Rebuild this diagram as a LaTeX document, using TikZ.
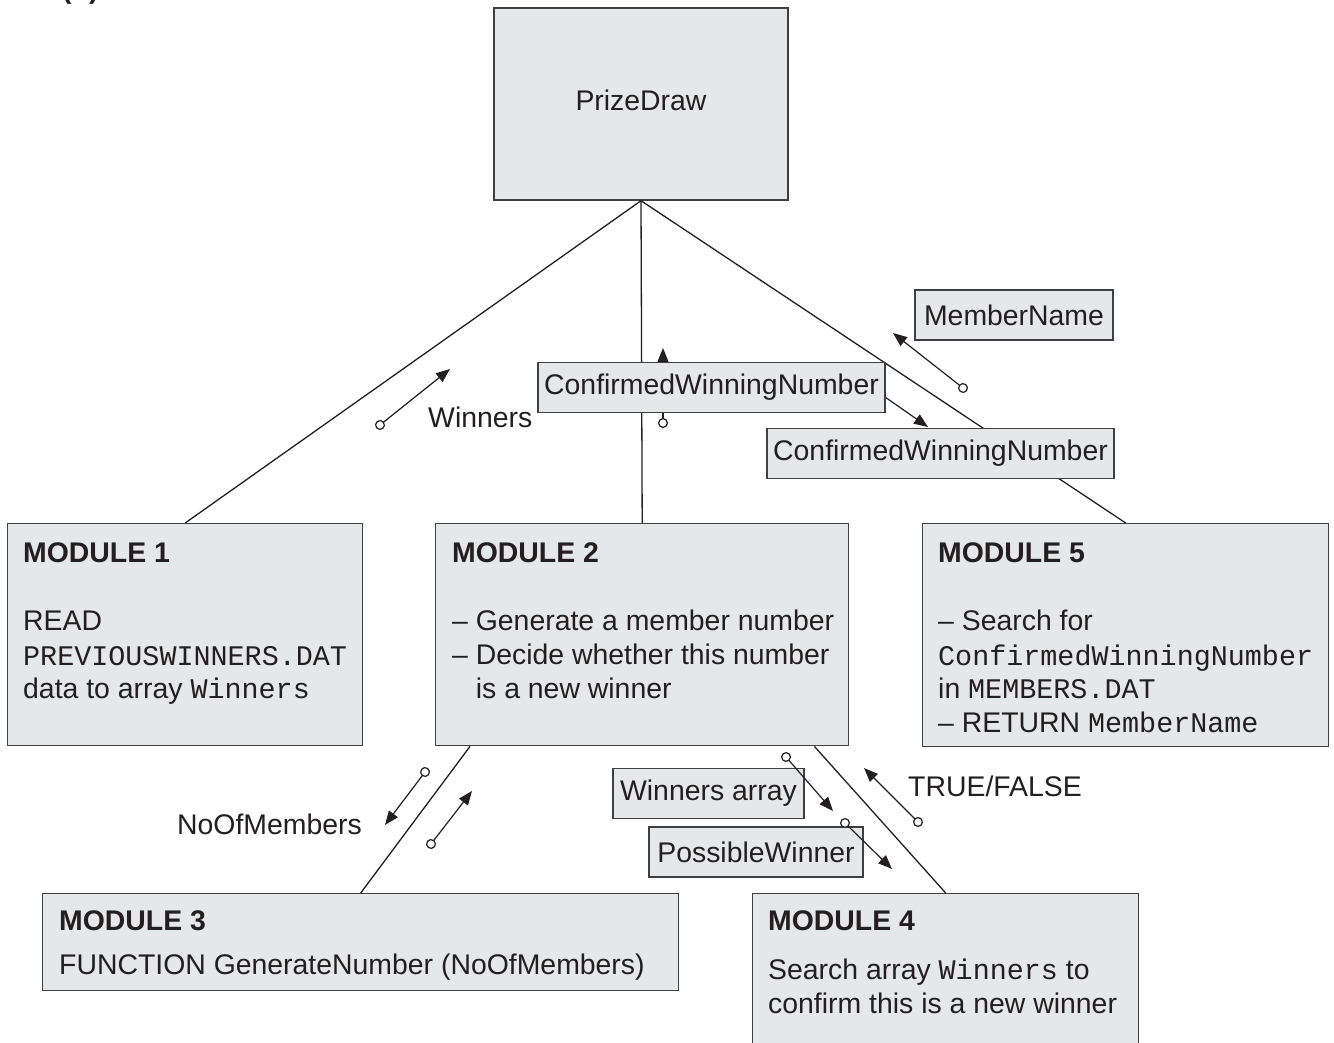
\documentclass[tikz,border=0pt]{standalone}
\usepackage{fontspec}
\setmainfont{Liberation Sans}
\setmonofont{Liberation Mono}
\usetikzlibrary{arrows.meta}
\definecolor{boxgray}{RGB}{230,231,232}
\definecolor{bord}{RGB}{64,64,66}
\definecolor{ink}{RGB}{35,31,32}
\begin{document}
\begin{tikzpicture}[x=1pt,y=-1pt,
  font=\fontsize{28.4}{34}\selectfont,
  modbox/.style={draw=bord, fill=boxgray, line width=1.4pt, inner sep=0pt, anchor=north west},
  txt/.style={anchor=base west, inner sep=0pt, text=ink},
  lbl/.style={draw=bord, fill=boxgray, line width=1.4pt, inner sep=0pt, minimum height=50pt, text=ink},
  link/.style={draw=ink, line width=1.3pt},
  flow/.style={draw=ink, line width=1.2pt, {Circle[fill=white,length=10pt,width=10pt]}-{Triangle[length=14pt,width=11pt]}, shorten <=-5pt},
  flowh/.style={draw=ink, line width=1.2pt, -{Triangle[length=14pt,width=11pt]}}
]
\useasboundingbox (0,0) rectangle (1334,1043);

% part label (cut off at top, as in the reference)
\node[txt] (part) at (62,-1) {\bfseries (b)};

% boxes
\node[modbox, anchor=center, minimum width=294pt, minimum height=192pt] (pd) at (641,104) {};
\node[modbox, minimum width=355pt, minimum height=222pt] (m1) at (7,523) {};
\node[modbox, minimum width=413pt, minimum height=222pt] (m2) at (435,523) {};
\node[modbox, minimum width=406pt, minimum height=223pt] (m5) at (922,523) {};
\node[modbox, minimum width=636pt, minimum height=97pt] (m3) at (42,893) {};
\node[modbox, minimum width=386pt, minimum height=200pt] (m4) at (752,893) {};

% connectors
\draw[link] (pd.south) -- (m1.north);
\draw[link] (pd.south) -- (m2.north);
\draw[link] (pd.south) -- (m5.north);
\draw[link] ([xshift=35pt]m2.south west) -- (m3.north);
\draw[link] ([xshift=-35pt]m2.south east) -- (m4.north);

% texts
\node[txt, anchor=base] (pdt) at (641,111) {PrizeDraw};

\node[txt] (m1a) at (23,562) {\bfseries MODULE 1};
\node[txt] (m1b) at (23,630) {READ};
\node[txt] (m1c) at (23,665) {\texttt{PREVIOUSWINNERS.DAT}};
\node[txt] (m1d) at (23,698) {data to array \texttt{Winners}};

\node[txt] (m2a) at (452,562) {\bfseries MODULE 2};
\node[txt] (m2b) at (452,630) {– Generate a member number};
\node[txt] (m2c) at (452,664) {– Decide whether this number};
\node[txt] (m2d) at (452,698) {\phantom{– }is a new winner};

\node[txt] (m5a) at (938,562) {\bfseries MODULE 5};
\node[txt] (m5b) at (938,630) {– Search for};
\node[txt] (m5c) at (938,665) {\texttt{ConfirmedWinningNumber}};
\node[txt] (m5d) at (938,698) {in \texttt{MEMBERS.DAT}};
\node[txt] (m5e) at (938,732) {– RETURN \texttt{MemberName}};

\node[txt] (m3a) at (59,930) {\bfseries MODULE 3};
\node[txt] (m3b) at (59,974) {FUNCTION GenerateNumber (NoOfMembers)};

\node[txt] (m4a) at (768,930) {\bfseries MODULE 4};
\node[txt] (m4b) at (768,979) {Search array \texttt{Winners} to};
\node[txt] (m4c) at (768,1013) {confirm this is a new winner};

% flows hidden partly under labels
\coordinate (f2s) at (663,423); \coordinate (f2e) at (663,348);
\coordinate (f3s) at (862,381); \coordinate (f3e) at (928,427);
\draw[flow] (f2s) -- (f2e);
\draw[flowh] (f3s) -- (f3e);

% label boxes
\node[lbl, minimum width=347pt] (cwn1) at (711.5,387.5) {ConfirmedWinningNumber};
\node[lbl, minimum width=347pt] (cwn2) at (940.5,453.5) {ConfirmedWinningNumber};
\node[lbl, minimum width=198pt] (mn) at (1014,315) {MemberName};
\node[lbl, minimum width=191pt] (wa) at (708.5,793.5) {Winners array};
\node[lbl, minimum width=214pt] (pw) at (756,852) {PossibleWinner};

% plain labels
\node[txt] (lw) at (428,427) {Winners};
\node[txt, anchor=base east] (lno) at (362,834) {NoOfMembers};
\node[txt] (ltf) at (908,796) {TRUE/FALSE};

% other flows
\coordinate (f1s) at (380,425); \coordinate (f1e) at (450,369);
\coordinate (f4s) at (963,388); \coordinate (f4e) at (893,333);
\coordinate (f5s) at (425,772); \coordinate (f5e) at (385,825);
\coordinate (f6s) at (431,844); \coordinate (f6e) at (472,791);
\coordinate (f7s) at (786,757); \coordinate (f7e) at (833,811);
\coordinate (f8s) at (845,823); \coordinate (f8e) at (892,869);
\coordinate (f9s) at (918,822); \coordinate (f9e) at (864,768);
\draw[flow] (f1s) -- (f1e);
\draw[flow] (f4s) -- (f4e);
\draw[flow] (f5s) -- (f5e);
\draw[flow] (f6s) -- (f6e);
\draw[flow] (f7s) -- (f7e);
\draw[flow] (f8s) -- (f8e);
\draw[flow] (f9s) -- (f9e);
\end{tikzpicture}
\end{document}
